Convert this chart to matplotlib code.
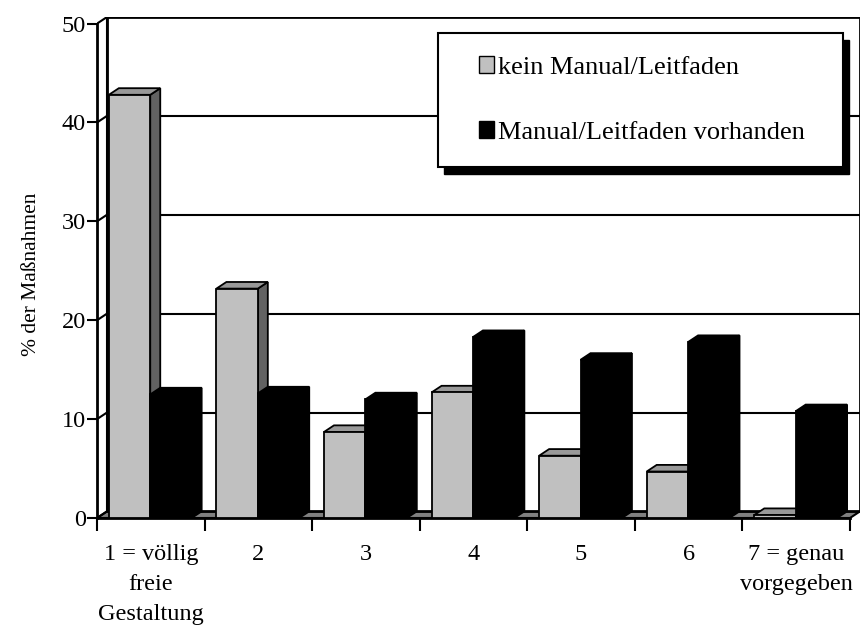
import numpy as np
import matplotlib
matplotlib.use('Agg')
import matplotlib.pyplot as plt
from matplotlib.patches import Polygon, Rectangle, Patch

plt.rcParams['font.family'] = ['Liberation Serif', 'DejaVu Serif']

################################################################################
# Data

categories = ['1 = völlig\nfreie\nGestaltung', '2', '3', '4', '5', '6',
              '7 = genau\nvorgegeben']
keinManual = [42.8, 23.2, 8.7, 12.7, 6.3, 4.7, 0.3]
mitManual = [12.5, 12.6, 12.0, 18.3, 16.0, 17.8, 10.8]
seriesNames = ['kein Manual/Leitfaden', 'Manual/Leitfaden vorhanden']
yTicks = [0, 10, 20, 30, 40, 50]

################################################################################
# Subroutines

# depth of the fake 3d effect (in data units)
dxd = 0.093
dyd = 0.67
barOff = 0.11
barW = 0.385

def bar3d(ax, x0, h, front, top, side):
	# right side face
	ax.add_patch(Polygon([(x0+barW, 0), (x0+barW+dxd, dyd), (x0+barW+dxd, h+dyd), (x0+barW, h)],
		closed=True, facecolor=side, edgecolor='black', lw=1.3, zorder=3))
	# top face
	ax.add_patch(Polygon([(x0, h), (x0+dxd, h+dyd), (x0+barW+dxd, h+dyd), (x0+barW, h)],
		closed=True, facecolor=top, edgecolor='black', lw=1.3, zorder=3))
	# front face
	ax.add_patch(Rectangle((x0, 0), barW, h, facecolor=front, edgecolor='black', lw=1.3, zorder=3))

################################################################################
# Main

fig = plt.figure(figsize=(8.6, 6.32), dpi=100)
ax = fig.add_axes([97/860, 114/632, 763/860, 501/632])
n = len(categories)
ax.set_xlim(0, n + dxd)
ax.set_ylim(0, 50 + dyd)
ax.patch.set_visible(False)

# walls
ax.add_patch(Polygon([(0, 0), (n, 0), (n+dxd, dyd), (dxd, dyd)], closed=True,
	facecolor='#808080', edgecolor='black', lw=1.5, zorder=1))
ax.add_patch(Rectangle((dxd, dyd), n, 50, facecolor='white', edgecolor='black', lw=2, zorder=1))
ax.plot([dxd, dxd], [dyd, 50+dyd], color='black', lw=1.5, zorder=1)
for v in yTicks:
	ax.plot([0, dxd], [v, v+dyd], color='black', lw=1.5, zorder=1)
	if 0 < v < 50:
		ax.plot([dxd, n+dxd], [v+dyd, v+dyd], color='black', lw=1.5, zorder=1)

# bars
for i in range(n):
	bar3d(ax, i + barOff, keinManual[i], '#C0C0C0', '#999999', '#626262')
	bar3d(ax, i + barOff + barW, mitManual[i], 'black', 'black', 'black')

# axes
for s in ['top', 'right']:
	ax.spines[s].set_visible(False)
ax.spines['left'].set_bounds(0, 50)
ax.spines['bottom'].set_bounds(0, n)
ax.spines['left'].set_linewidth(2)
ax.spines['bottom'].set_linewidth(2)
ax.set_yticks(yTicks)
ax.tick_params(axis='y', direction='out', length=7, width=1.5, pad=1, labelsize=17.5)
ax.set_xticks(np.arange(n + 1))
ax.set_xticklabels([])
ax.tick_params(axis='x', which='major', direction='out', length=9, width=1.5)
ax.set_xticks(np.arange(n) + 0.5, minor=True)
ax.set_xticklabels(categories, minor=True, fontsize=17.5, linespacing=1.55)
ax.tick_params(axis='x', which='minor', length=0, pad=19)
ax.set_ylabel('% der Maßnahmen', fontsize=15.5, va='center')
ax.yaxis.set_label_coords(-65/763, 244/501)

# legend with black shadow
fig.add_artist(Rectangle((444/860, (632-174)/632), 405/860, 134/632, transform=fig.transFigure,
	facecolor='black', edgecolor='black', zorder=5))
fig.add_artist(Rectangle((438/860, (632-167)/632), 405/860, 134/632, transform=fig.transFigure,
	facecolor='white', edgecolor='black', lw=1.5, zorder=6))
handles = [Patch(facecolor='#C0C0C0', edgecolor='black', lw=1),
	Patch(facecolor='black', edgecolor='black', lw=1)]
leg = fig.legend(handles, seriesNames, loc='center', bbox_to_anchor=(642/860, (632-100)/632),
	frameon=False, fontsize=19, handlelength=0.6, handleheight=0.62, handletextpad=0.15,
	labelspacing=1.6)
leg.set_zorder(7)

plt.savefig('out.png', dpi=100)
